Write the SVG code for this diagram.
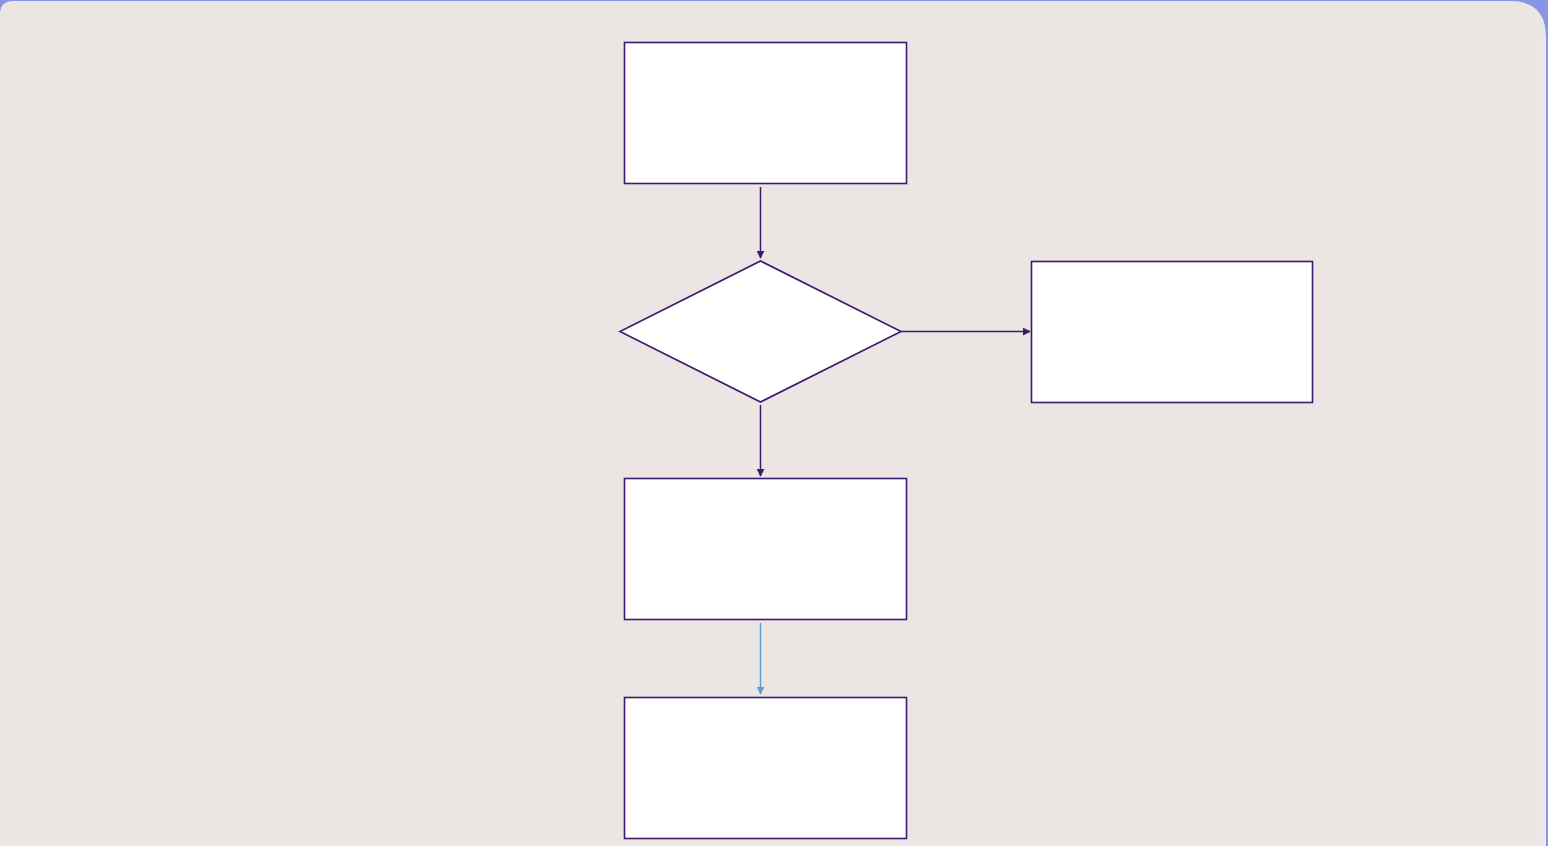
<svg xmlns="http://www.w3.org/2000/svg" width="1548" height="846" viewBox="0 0 1548 846">
  <style>
    .node { fill: #ffffff; stroke: #3d1a6e; stroke-width: 1.6; }
    .edge { fill: none; stroke: #3d1a6e; stroke-width: 1.5; }
    .edge-blue { fill: none; stroke: #5b9fd0; stroke-width: 1.5; }
  </style>
  <defs>
    <marker id="arrow" viewBox="0 0 10 10" refX="9" refY="5" markerWidth="8" markerHeight="8" orient="auto" markerUnits="userSpaceOnUse">
      <path d="M0,0 L10,5 L0,10 z" fill="#3d1a6e"/>
    </marker>
    <marker id="arrow-blue" viewBox="0 0 10 10" refX="9" refY="5" markerWidth="8" markerHeight="8" orient="auto" markerUnits="userSpaceOnUse">
      <path d="M0,0 L10,5 L0,10 z" fill="#5b9fd0"/>
    </marker>
  </defs>

  <!-- window backdrop and canvas panel -->
  <rect x="0" y="0" width="1548" height="846" fill="#8796e4"/>
  <path d="M0,14 Q0,1 14,1 L1510,1 Q1546,1 1546,37 L1546,846 L0,846 Z" fill="#ebe5e3"/>
  <rect x="1534" y="40" width="12" height="806" fill="#ece8e8"/>

  <g id="connectors">
    <line class="edge" x1="760.5" y1="187" x2="760.5" y2="258" marker-end="url(#arrow)"/>
    <line class="edge" x1="901" y1="331.5" x2="1030" y2="331.5" marker-end="url(#arrow)"/>
    <line class="edge" x1="760.5" y1="405" x2="760.5" y2="476" marker-end="url(#arrow)"/>
    <line class="edge-blue" x1="760.5" y1="623" x2="760.5" y2="694" marker-end="url(#arrow-blue)"/>
  </g>

  <g id="node-start">
    <rect class="node" x="624.5" y="42.5" width="282" height="141"/>
  </g>
  <g id="node-decision">
    <polygon class="node" points="760.5,261 901,331.5 760.5,402 620,331.5"/>
  </g>
  <g id="node-branch">
    <rect class="node" x="1031.5" y="261.5" width="281" height="141"/>
  </g>
  <g id="node-step">
    <rect class="node" x="624.5" y="478.5" width="282" height="141"/>
  </g>
  <g id="node-end">
    <rect class="node" x="624.5" y="697.5" width="282" height="141"/>
  </g>
</svg>
